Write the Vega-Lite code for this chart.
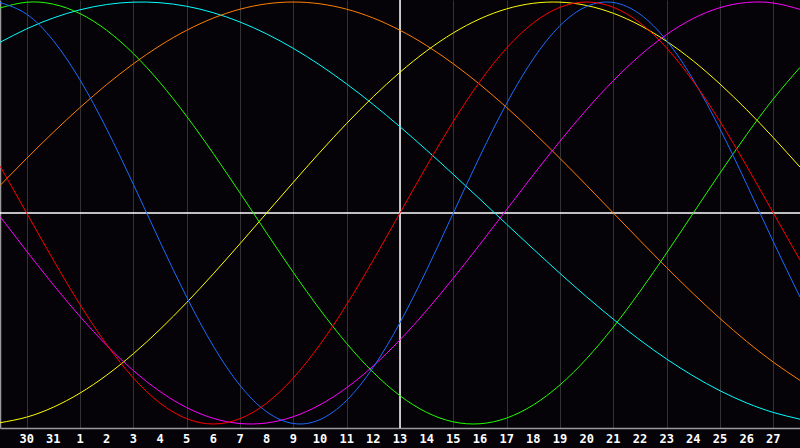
{
  "$schema": "https://vega.github.io/schema/vega-lite/v6.json",
  "width": 800,
  "height": 428,
  "autosize": {"type": "none"},
  "padding": {"left": 0, "top": 0, "right": 0, "bottom": 20},
  "background": "#050308",
  "config": {"view": {"stroke": null, "fill": "#050308"}},
  "datasets": {
    "days": [
      {"k":1,"label":"30"},{"k":2,"label":"31"},{"k":3,"label":"1"},{"k":4,"label":"2"},{"k":5,"label":"3"},
      {"k":6,"label":"4"},{"k":7,"label":"5"},{"k":8,"label":"6"},{"k":9,"label":"7"},{"k":10,"label":"8"},
      {"k":11,"label":"9"},{"k":12,"label":"10"},{"k":13,"label":"11"},{"k":14,"label":"12"},{"k":15,"label":"13"},
      {"k":16,"label":"14"},{"k":17,"label":"15"},{"k":18,"label":"16"},{"k":19,"label":"17"},{"k":20,"label":"18"},
      {"k":21,"label":"19"},{"k":22,"label":"20"},{"k":23,"label":"21"},{"k":24,"label":"22"},{"k":25,"label":"23"},
      {"k":26,"label":"24"},{"k":27,"label":"25"},{"k":28,"label":"26"},{"k":29,"label":"27"}
    ],
    "cycles": [
    {"k":0,"physical":0.9977,"emotional":0.2225,"intellectual":0.9718,"intuitive":-0.0165,"aesthetic":-0.9940,"awareness":0.1305,"spiritual":0.8090},
    {"k":1,"physical":0.9422,"emotional":0,"intellectual":0.9989,"intuitive":-0.1809,"aesthetic":-0.9675,"awareness":0.2588,"spiritual":0.8728},
    {"k":2,"physical":0.8170,"emotional":-0.2225,"intellectual":0.9898,"intuitive":-0.3403,"aesthetic":-0.9204,"awareness":0.3827,"spiritual":0.9245},
    {"k":3,"physical":0.6310,"emotional":-0.4339,"intellectual":0.9450,"intuitive":-0.4905,"aesthetic":-0.8536,"awareness":0.5,"spiritual":0.9631},
    {"k":4,"physical":0.3984,"emotional":-0.6235,"intellectual":0.8660,"intuitive":-0.6271,"aesthetic":-0.7685,"awareness":0.6088,"spiritual":0.9881},
    {"k":5,"physical":0.1362,"emotional":-0.7818,"intellectual":0.7557,"intuitive":-0.7466,"aesthetic":-0.6671,"awareness":0.7071,"spiritual":0.9994},
    {"k":6,"physical":-0.1362,"emotional":-0.9010,"intellectual":0.6182,"intuitive":-0.8461,"aesthetic":-0.5517,"awareness":0.7934,"spiritual":0.9966},
    {"k":7,"physical":-0.3984,"emotional":-0.9749,"intellectual":0.4582,"intuitive":-0.9222,"aesthetic":-0.4245,"awareness":0.8660,"spiritual":0.9798},
    {"k":8,"physical":-0.6310,"emotional":-1,"intellectual":0.2817,"intuitive":-0.9733,"aesthetic":-0.2881,"awareness":0.9239,"spiritual":0.9492},
    {"k":9,"physical":-0.8170,"emotional":-0.9749,"intellectual":0.0951,"intuitive":-0.9978,"aesthetic":-0.1456,"awareness":0.9659,"spiritual":0.9053},
    {"k":10,"physical":-0.9422,"emotional":-0.9010,"intellectual":-0.0951,"intuitive":-0.9951,"aesthetic":0,"awareness":0.9914,"spiritual":0.8487},
    {"k":11,"physical":-0.9977,"emotional":-0.7818,"intellectual":-0.2817,"intuitive":-0.9652,"aesthetic":0.1456,"awareness":1,"spiritual":0.7802},
    {"k":12,"physical":-0.9791,"emotional":-0.6235,"intellectual":-0.4582,"intuitive":-0.9090,"aesthetic":0.2881,"awareness":0.9914,"spiritual":0.7008},
    {"k":13,"physical":-0.8879,"emotional":-0.4339,"intellectual":-0.6182,"intuitive":-0.8281,"aesthetic":0.4245,"awareness":0.9659,"spiritual":0.6116},
    {"k":14,"physical":-0.7308,"emotional":-0.2225,"intellectual":-0.7557,"intuitive":-0.7244,"aesthetic":0.5517,"awareness":0.9239,"spiritual":0.5137},
    {"k":15,"physical":-0.5196,"emotional":0,"intellectual":-0.8660,"intuitive":-0.6011,"aesthetic":0.6671,"awareness":0.8660,"spiritual":0.4085},
    {"k":16,"physical":-0.2698,"emotional":0.2225,"intellectual":-0.9450,"intuitive":-0.4614,"aesthetic":0.7685,"awareness":0.7934,"spiritual":0.2977},
    {"k":17,"physical":0,"emotional":0.4339,"intellectual":-0.9898,"intuitive":-0.3090,"aesthetic":0.8536,"awareness":0.7071,"spiritual":0.1827},
    {"k":18,"physical":0.2698,"emotional":0.6235,"intellectual":-0.9989,"intuitive":-0.1483,"aesthetic":0.9204,"awareness":0.6088,"spiritual":0.0652},
    {"k":19,"physical":0.5196,"emotional":0.7818,"intellectual":-0.9718,"intuitive":0.0165,"aesthetic":0.9675,"awareness":0.5,"spiritual":-0.0534},
    {"k":20,"physical":0.7308,"emotional":0.9010,"intellectual":-0.9096,"intuitive":0.1809,"aesthetic":0.9940,"awareness":0.3827,"spiritual":-0.1711},
    {"k":21,"physical":0.8879,"emotional":0.9749,"intellectual":-0.8146,"intuitive":0.3403,"aesthetic":0.9993,"awareness":0.2588,"spiritual":-0.2864},
    {"k":22,"physical":0.9791,"emotional":1,"intellectual":-0.6901,"intuitive":0.4905,"aesthetic":0.9834,"awareness":0.1305,"spiritual":-0.3977},
    {"k":23,"physical":0.9977,"emotional":0.9749,"intellectual":-0.5406,"intuitive":0.6271,"aesthetic":0.9465,"awareness":0,"spiritual":-0.5034},
    {"k":24,"physical":0.9422,"emotional":0.9010,"intellectual":-0.3717,"intuitive":0.7466,"aesthetic":0.8894,"awareness":-0.1305,"spiritual":-0.6023},
    {"k":25,"physical":0.8170,"emotional":0.7818,"intellectual":-0.1893,"intuitive":0.8461,"aesthetic":0.8135,"awareness":-0.2588,"spiritual":-0.6924},
    {"k":26,"physical":0.6310,"emotional":0.6235,"intellectual":0,"intuitive":0.9222,"aesthetic":0.7204,"awareness":-0.3827,"spiritual":-0.7727},
    {"k":27,"physical":0.3984,"emotional":0.4339,"intellectual":0.1893,"intuitive":0.9733,"aesthetic":0.6111,"awareness":-0.5,"spiritual":-0.8425},
    {"k":28,"physical":0.1362,"emotional":0.2225,"intellectual":0.3717,"intuitive":0.9978,"aesthetic":0.4894,"awareness":-0.6088,"spiritual":-0.9003},
    {"k":29,"physical":-0.1362,"emotional":0,"intellectual":0.5406,"intuitive":0.9951,"aesthetic":0.3572,"awareness":-0.7071,"spiritual":-0.9454},
    {"k":30,"physical":-0.3984,"emotional":-0.2225,"intellectual":0.6901,"intuitive":0.9652,"aesthetic":0.2175,"awareness":-0.7934,"spiritual":-0.9773}
    ]
  },
  "layer": [
    {
      "data": {"values": [{}]},
      "mark": {"type": "rule", "color": "#ffffff", "strokeWidth": 1.5},
      "encoding": {
        "y": {"datum": 0, "type": "quantitative",
          "scale": {"domain": [-1.019, 1.0095], "nice": false, "zero": false},
          "axis": {"title": null, "labels": false, "ticks": false, "grid": false, "domainColor": "#9a9a9a", "domainWidth": 1.5}}
      }
    },
    {
      "data": {"values": [{}]},
      "mark": {"type": "rule", "color": "#ffffff", "strokeWidth": 1.5},
      "encoding": {
        "x": {"datum": 15, "type": "quantitative",
          "scale": {"domain": [0, 30], "nice": false, "zero": false},
          "axis": {"title": null, "orient": "bottom", "values": [1,2,3,4,5,6,7,8,9,10,11,12,13,14,15,16,17,18,19,20,21,22,23,24,25,26,27,28,29],
            "grid": true, "gridColor": "#333333", "gridWidth": 1, "ticks": false, "labels": false,
            "domainColor": "#9a9a9a", "domainWidth": 1.5}}
      }
    },
    {
      "data": {"name": "cycles"},
      "transform": [{"fold": ["spiritual","awareness","aesthetic","intuitive","intellectual","physical","emotional"], "as": ["cycle","value"]}],
      "mark": {"type": "line", "interpolate": "natural", "strokeWidth": 1, "clip": true},
      "encoding": {
        "x": {"field": "k", "type": "quantitative"},
        "y": {"field": "value", "type": "quantitative"},
        "color": {"field": "cycle", "type": "nominal", "legend": null,
          "scale": {"domain": ["physical","emotional","intellectual","intuitive","aesthetic","awareness","spiritual"],
                    "range": ["#1a6cff","#ff0000","#22ff00","#ff00ff","#ffff00","#ff7f00","#00ffff"]}},
        "order": {"field": "k", "type": "quantitative"}
      }
    },
    {
      "data": {"name": "days"},
      "mark": {"type": "text", "clip": false, "color": "#ffffff", "font": "DejaVu Sans Mono", "fontWeight": "bold", "fontSize": 12, "baseline": "middle", "align": "center"},
      "encoding": {
        "x": {"field": "k", "type": "quantitative"},
        "y": {"datum": -1.07},
        "text": {"field": "label"}
      }
    }
  ]
}
